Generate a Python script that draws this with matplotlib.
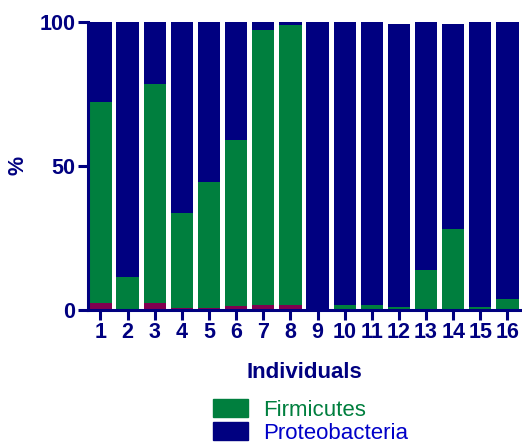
import matplotlib.pyplot as plt
import numpy as np
from matplotlib.patches import Patch

individuals = [str(i) for i in range(1, 17)]
# values in %
other = [2.4, 0.3, 2.4, 0.8, 0.8, 1.5, 1.9, 1.9, 0.0, 0.2, 0.2, 0.3, 0.2, 0.5, 0.2, 0.2]
firmicutes = [69.9, 11.0, 76.1, 32.8, 43.7, 57.5, 95.3, 96.9, 0.5, 1.4, 1.5, 0.6, 13.7, 27.5, 0.8, 3.5]
proteobacteria = [27.7, 88.7, 21.5, 66.4, 55.5, 41.0, 2.8, 1.2, 99.5, 98.4, 98.3, 98.4, 86.1, 71.3, 99.0, 96.3]

navy = "#000080"
green = "#007F3E"
purple = "#800050"

plt.rcParams["font.family"] = ["Liberation Sans", "DejaVu Sans"]

fig = plt.figure(figsize=(5.22, 4.42), dpi=100)
ax = fig.add_axes([88 / 522, 1 - 310 / 442, 433 / 522, 288 / 442])

x = np.arange(1, 17)
w = 0.82
bottom2 = np.array(other) + np.array(firmicutes)
ax.bar(x, other, w, color=purple, linewidth=0)
ax.bar(x, firmicutes, w, bottom=other, color=green, linewidth=0)
ax.bar(x, proteobacteria, w, bottom=bottom2, color=navy, linewidth=0)

ax.set_xlim(0.54, 16.5)
ax.set_ylim(0, 100)
ax.set_xticks(x)
ax.set_xticklabels(individuals)
ax.set_yticks([0, 50, 100])
for s in ["top", "right"]:
    ax.spines[s].set_visible(False)
for s in ["left", "bottom"]:
    ax.spines[s].set_color(navy)
    ax.spines[s].set_linewidth(2.2)
ax.tick_params(axis="both", colors=navy, width=2.2, length=7.5, labelsize=15.5, pad=1.5)
for lab in ax.get_xticklabels() + ax.get_yticklabels():
    lab.set_fontweight("bold")

fig.text(304 / 522, 1 - 372 / 442, "Individuals", color=navy, fontsize=16,
         fontweight="bold", ha="center", va="center")
fig.text(17.5 / 522, 1 - 165 / 442, "%", color=navy, fontsize=15.5,
         fontweight="bold", ha="center", va="center", rotation=90)

handles = [Patch(color=green), Patch(color=navy)]
leg = fig.legend(handles, ["Firmicutes", "Proteobacteria"], loc="upper left",
                 bbox_to_anchor=(213 / 522, 1 - 399 / 442), frameon=False,
                 fontsize=16, handlelength=1.58, handleheight=0.9,
                 handletextpad=0.68, labelspacing=0.05, borderpad=0,
                 borderaxespad=0)
leg.get_texts()[0].set_color(green)
leg.get_texts()[1].set_color("#0000C8")

fig.savefig("out.png", dpi=100)
